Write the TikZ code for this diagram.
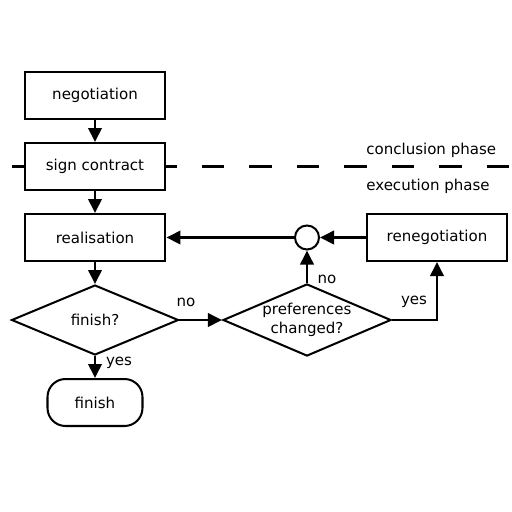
\documentclass[tikz,border=0pt]{standalone}
\usepackage{fontspec}
\setmainfont{DejaVu Sans}
\usetikzlibrary{arrows.meta,shapes.geometric,positioning}

\begin{document}
\begin{tikzpicture}[
    x=0.02cm, y=-0.02cm,
    font=\fontsize{8.55}{11}\selectfont,
    >={Triangle[length=0.28cm,width=0.27cm]},
    flow/.style={->, line width=1.15pt},
    process/.style={draw, line width=1.15pt, fill=white, minimum width=2.82cm,
        minimum height=0.94cm, inner sep=0pt},
    decision/.style={draw, diamond, line width=1.15pt, fill=white, aspect=2.33,
        inner sep=0pt, align=center, minimum height=1.4cm},
    terminal/.style={draw, line width=1.15pt, rounded corners=0.36cm,
        minimum width=1.9cm, minimum height=0.94cm},
    junction/.style={draw, circle, line width=1.15pt, minimum size=0.48cm, inner sep=0pt},
    phaseline/.style={dash pattern=on 0.45cm off 0.5cm, line width=1.15pt},
    phasetext/.style={anchor=west, inner sep=0pt},
    edgelabel/.style={inner sep=0pt}
]
\useasboundingbox (0,0) rectangle (512,512);

% Phase boundary
\coordinate (lineL) at (12,166.5);
\coordinate (lineR) at (512,166.5);
\draw[phaseline] (lineL) -- (lineR);
\node[phasetext] (concl) at (366,150) {conclusion phase};
\node[phasetext] (exec) at (366,186) {execution phase};

% Nodes
\node[process] (nego) at (95,95.5) {negotiation};
\node[process] (sign) at (95,166.5) {sign contract};
\node[process] (real) at (95,237.5) {realisation};
\node[decision, minimum width=3.34cm] (fin) at (95,320) {finish?};
\node[terminal] (done) at (95,402.5) {finish};
\node[decision, minimum width=3.26cm] (pref) at (307,320) {preferences\\changed?};
\node[junction] (join) at (307,237.5) {};
\node[process] (reneg) at (437,237.5) {renegotiation};

% Connectors
\draw[flow] (nego) -- (sign);
\draw[flow] (sign) -- (real);
\draw[flow] (real) -- (fin);
\draw[flow] (fin) -- (done);
\draw[flow] (fin.east) -- (pref.west);
\draw[flow] (pref.north) -- (join.south);
\draw[flow] (pref.east) -| (reneg.south);
\draw[flow] (reneg.west) -- (join.east);
\draw[flow] (join.west) -- (real.east);

% Labels
\node[edgelabel] (yesA) at (119,363) {yes};
\node[edgelabel] (noA) at (186,302) {no};
\node[edgelabel] (noB) at (327,279) {no};
\node[edgelabel] (yesB) at (414,302) {yes};

\end{tikzpicture}
\end{document}
